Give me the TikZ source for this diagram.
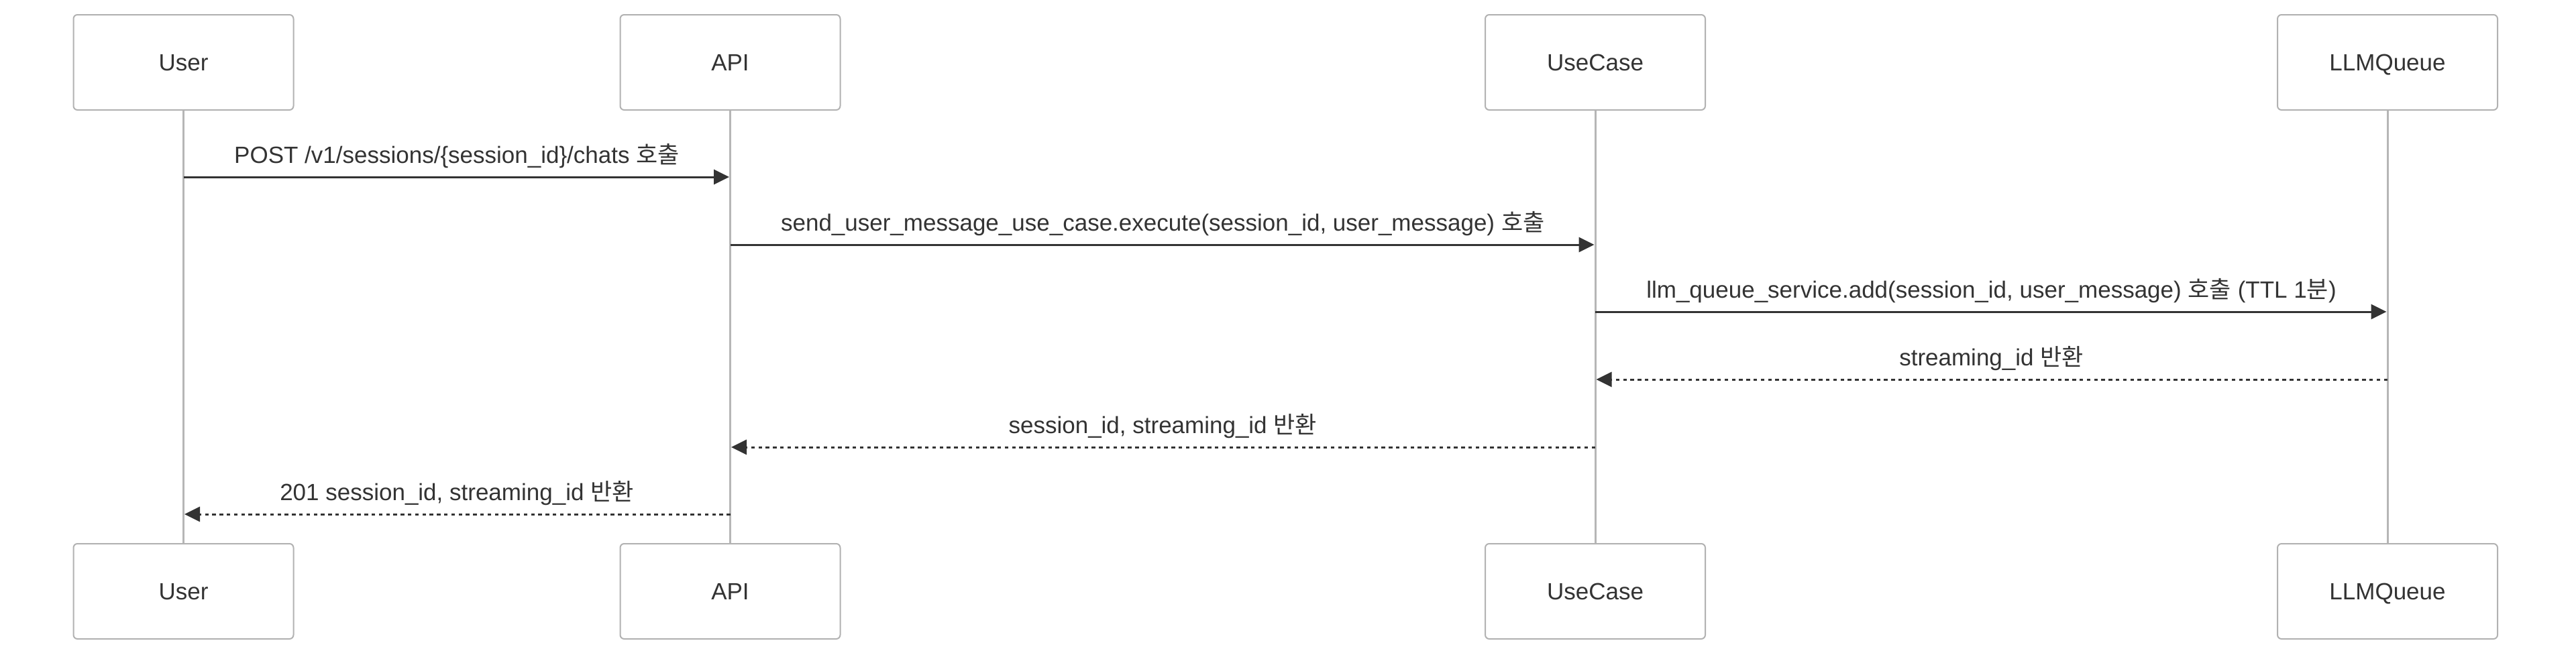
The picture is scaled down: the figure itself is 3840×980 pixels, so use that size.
\documentclass[tikz,border=0pt]{standalone}
\usepackage{fontspec}
\setmainfont{Liberation Sans}
\newfontfamily\krfont{Noto Sans CJK KR}
\usetikzlibrary{arrows.meta,calc}
\definecolor{boxgray}{RGB}{178,178,178}
\definecolor{linegray}{RGB}{182,182,182}
\definecolor{ink}{RGB}{51,51,51}
\newcommand{\kr}[1]{{\krfont #1}}
\begin{document}
\begin{tikzpicture}[x=0.5pt,y=-0.5pt,
  actorbox/.style={draw=boxgray, line width=1pt, rounded corners=3pt, fill=white,
    minimum width=164pt, minimum height=71pt, inner sep=0pt, text=ink, text depth=0pt,
    font=\fontsize{17.5}{21}\selectfont},
  lifeline/.style={draw=linegray, line width=1.5pt},
  msg/.style={draw=ink, line width=1.5pt, shorten >=0.75pt, -{Triangle[length=11.5pt,width=11pt]}},
  reply/.style={msg, dash pattern=on 2.7pt off 2.7pt},
  msglabel/.style={anchor=base, text=ink, inner sep=0pt, font=\fontsize{17.5}{21}\selectfont}]
\useasboundingbox[fill=white] (0,0) rectangle (3840,980);
% actors top
\node[actorbox] (ut) at (273.5,93) {User};
\node[actorbox] (at) at (1088.5,93) {API};
\node[actorbox] (ct) at (2378,93) {UseCase};
\node[actorbox] (qt) at (3559,93) {LLMQueue};
% actors bottom
\node[actorbox] (ub) at (273.5,882) {User};
\node[actorbox] (ab) at (1088.5,882) {API};
\node[actorbox] (cb) at (2378,882) {UseCase};
\node[actorbox] (qb) at (3559,882) {LLMQueue};
% lifelines
\draw[lifeline] (ut.south) -- (ub.north);
\draw[lifeline] (at.south) -- (ab.north);
\draw[lifeline] (ct.south) -- (cb.north);
\draw[lifeline] (qt.south) -- (qb.north);
% message anchor points
\coordinate (u1) at (273.5,264); \coordinate (a1) at (1088.5,264);
\coordinate (a2) at (1088.5,365); \coordinate (c2) at (2378,365);
\coordinate (c3) at (2378,465); \coordinate (q3) at (3559,465);
\coordinate (q4) at (3559,566); \coordinate (c4) at (2378,566);
\coordinate (c5) at (2378,667); \coordinate (a5) at (1088.5,667);
\coordinate (a6) at (1088.5,767); \coordinate (u6) at (273.5,767);
% messages
\draw[msg] (u1) -- (a1);
\node[msglabel] (l1) at ($ (u1)!0.5!(a1) + (0,-21) $) {POST /v1/sessions/\{session\_id\}/chats \kr{호출}};
\draw[msg] (a2) -- (c2);
\node[msglabel] (l2) at ($ (a2)!0.5!(c2) + (0,-21) $) {send\_user\_message\_use\_case.execute(session\_id, user\_message) \kr{호출}};
\draw[msg] (c3) -- (q3);
\node[msglabel] (l3) at ($ (c3)!0.5!(q3) + (0,-21) $) {llm\_queue\_service.add(session\_id, user\_message) \kr{호출} (TTL 1\kr{분})};
\draw[reply] (q4) -- (c4);
\node[msglabel] (l4) at ($ (q4)!0.5!(c4) + (0,-21) $) {streaming\_id \kr{반환}};
\draw[reply] (c5) -- (a5);
\node[msglabel] (l5) at ($ (c5)!0.5!(a5) + (0,-21) $) {session\_id, streaming\_id \kr{반환}};
\draw[reply] (a6) -- (u6);
\node[msglabel] (l6) at ($ (a6)!0.5!(u6) + (0,-21) $) {201 session\_id, streaming\_id \kr{반환}};
\end{tikzpicture}
\end{document}
